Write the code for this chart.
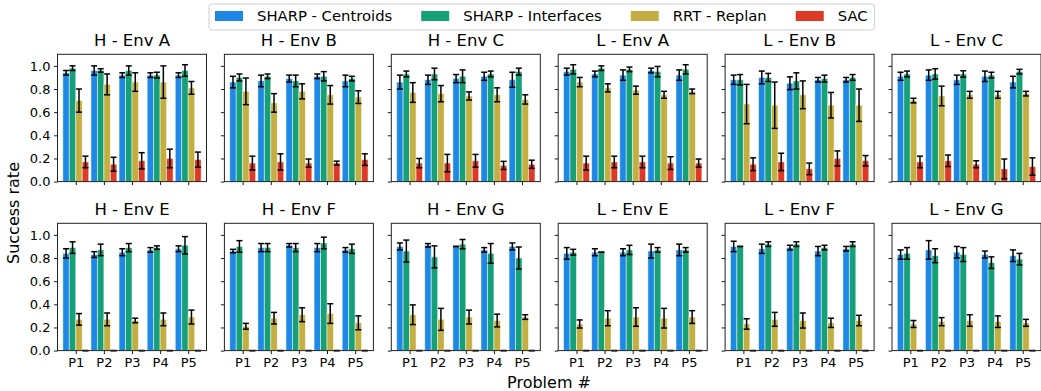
<!DOCTYPE html>
<html>
<head>
<meta charset="utf-8">
<script src="https://cdn.jsdelivr.net/npm/d3@7"></script>
<style>
  body { margin: 0; background: #ffffff; }
  text { font-family: "DejaVu Sans", sans-serif; fill: #000; }
</style>
</head>
<body>
<div id="chart"></div>
<script>
//panel titles, top row first
var panelTitles = ["H - Env A", "H - Env B", "H - Env C", "L - Env A", "L - Env B", "L - Env C",
                   "H - Env E", "H - Env F", "H - Env G", "L - Env E", "L - Env F", "L - Env G"];
var problems = ["P1", "P2", "P3", "P4", "P5"];
var seriesNames = ["SHARP - Centroids", "SHARP - Interfaces", "RRT - Replan", "SAC"];
var seriesColors = ["#1e88e5", "#16a077", "#c3ae42", "#de3826"];
var yTicks = [0, 0.2, 0.4, 0.6, 0.8, 1.0];

//mean success rate per panel (rows follow panelTitles)
var centroidsMean = [
  [0.94, 0.96, 0.92, 0.92, 0.92], [0.86, 0.87, 0.89, 0.91, 0.87], [0.86, 0.88, 0.89, 0.91, 0.88],
  [0.95, 0.93, 0.92, 0.96, 0.92], [0.88, 0.90, 0.85, 0.88, 0.88], [0.91, 0.92, 0.88, 0.91, 0.86],
  [0.84, 0.83, 0.85, 0.87, 0.88], [0.86, 0.89, 0.91, 0.89, 0.87], [0.90, 0.91, 0.90, 0.87, 0.90],
  [0.84, 0.85, 0.85, 0.86, 0.87], [0.90, 0.88, 0.89, 0.86, 0.88], [0.83, 0.87, 0.85, 0.83, 0.82]
];
var centroidsErr = [
  [0.02, 0.04, 0.02, 0.02, 0.02], [0.05, 0.05, 0.03, 0.02, 0.05], [0.06, 0.04, 0.035, 0.035, 0.065],
  [0.03, 0.025, 0.045, 0.02, 0.045], [0.04, 0.055, 0.055, 0.02, 0.02], [0.035, 0.045, 0.04, 0.045, 0.05],
  [0.04, 0.025, 0.03, 0.02, 0.025], [0.015, 0.035, 0.015, 0.035, 0.02], [0.03, 0.015, 0.0, 0.02, 0.03],
  [0.05, 0.03, 0.03, 0.06, 0.05], [0.045, 0.04, 0.02, 0.04, 0.02], [0.04, 0.08, 0.05, 0.03, 0.05]
];
var interfacesMean = [
  [0.98, 0.96, 0.96, 0.92, 0.96], [0.90, 0.91, 0.87, 0.91, 0.89], [0.93, 0.93, 0.91, 0.93, 0.95],
  [0.97, 0.98, 0.97, 0.95, 0.97], [0.88, 0.90, 0.87, 0.89, 0.90], [0.93, 0.93, 0.93, 0.92, 0.95],
  [0.89, 0.87, 0.89, 0.89, 0.91], [0.90, 0.89, 0.89, 0.93, 0.88], [0.86, 0.81, 0.92, 0.84, 0.80],
  [0.85, 0.85, 0.87, 0.87, 0.87], [0.90, 0.92, 0.92, 0.89, 0.92], [0.84, 0.82, 0.83, 0.76, 0.79]
];
var interfacesErr = [
  [0.02, 0.015, 0.04, 0.025, 0.05], [0.03, 0.02, 0.05, 0.04, 0.02], [0.025, 0.05, 0.055, 0.025, 0.03],
  [0.04, 0.02, 0.02, 0.045, 0.04], [0.045, 0.035, 0.07, 0.03, 0.025], [0.025, 0.045, 0.028, 0.025, 0.02],
  [0.05, 0.05, 0.035, 0.015, 0.075], [0.05, 0.035, 0.035, 0.05, 0.04], [0.095, 0.095, 0.04, 0.085, 0.095],
  [0.025, 0.0, 0.04, 0.02, 0.02], [0.0, 0.02, 0.02, 0.02, 0.02], [0.05, 0.06, 0.06, 0.05, 0.05]
];
var rrtMean = [
  [0.70, 0.84, 0.86, 0.86, 0.81], [0.78, 0.68, 0.78, 0.75, 0.73], [0.77, 0.76, 0.74, 0.75, 0.71],
  [0.86, 0.81, 0.79, 0.75, 0.78], [0.67, 0.66, 0.75, 0.66, 0.66], [0.70, 0.74, 0.75, 0.75, 0.76],
  [0.27, 0.27, 0.26, 0.27, 0.29], [0.21, 0.28, 0.31, 0.32, 0.24], [0.31, 0.27, 0.29, 0.26, 0.29],
  [0.23, 0.28, 0.29, 0.28, 0.29], [0.23, 0.27, 0.26, 0.24, 0.26], [0.23, 0.25, 0.26, 0.25, 0.24]
];
var rrtErr = [
  [0.10, 0.09, 0.08, 0.14, 0.055], [0.115, 0.08, 0.065, 0.08, 0.055], [0.085, 0.07, 0.035, 0.06, 0.04],
  [0.04, 0.035, 0.035, 0.03, 0.02], [0.17, 0.20, 0.12, 0.11, 0.14], [0.02, 0.085, 0.03, 0.03, 0.02],
  [0.05, 0.055, 0.02, 0.055, 0.06], [0.025, 0.05, 0.06, 0.085, 0.06], [0.085, 0.095, 0.06, 0.055, 0.02],
  [0.035, 0.065, 0.08, 0.085, 0.055], [0.045, 0.06, 0.065, 0.04, 0.045], [0.03, 0.035, 0.05, 0.05, 0.03]
];
var sacMean = [
  [0.17, 0.15, 0.18, 0.20, 0.19], [0.16, 0.17, 0.16, 0.16, 0.19], [0.16, 0.16, 0.18, 0.14, 0.15],
  [0.16, 0.17, 0.17, 0.16, 0.16], [0.15, 0.17, 0.11, 0.20, 0.18], [0.17, 0.18, 0.15, 0.11, 0.13],
  [0, 0, 0, 0, 0], [0, 0, 0, 0, 0], [0, 0, 0, 0, 0],
  [0, 0, 0, 0, 0], [0, 0, 0, 0, 0], [0, 0, 0, 0, 0]
];
var sacErr = [
  [0.05, 0.06, 0.07, 0.08, 0.065], [0.06, 0.07, 0.035, 0.017, 0.05], [0.04, 0.075, 0.055, 0.035, 0.035],
  [0.06, 0.05, 0.05, 0.055, 0.035], [0.055, 0.075, 0.05, 0.065, 0.045], [0.05, 0.05, 0.03, 0.085, 0.075],
  [0, 0, 0, 0, 0], [0, 0, 0, 0, 0], [0, 0, 0, 0, 0],
  [0, 0, 0, 0, 0], [0, 0, 0, 0, 0], [0, 0, 0, 0, 0]
];

var allMeans = [centroidsMean, interfacesMean, rrtMean, sacMean];
var allErrs = [centroidsErr, interfacesErr, rrtErr, sacErr];

//figure size
var width = 1041;
var height = 391;

//panel geometry
var panelLeft = 57.5;
var panelStep = 166.9;
var panelWidth = 149;
var rowTops = [54.3, 223.3];
var panelHeight = 127.3;
var barWidth = 0.23;

var svg = d3
  .select("#chart")
  .append("svg")
  .attr("width", width)
  .attr("height", height);

//shared scales
var xScale = d3
  .scaleLinear()
  .domain([-0.65, 4.65])
  .range([0, panelWidth]);

var yScale = d3
  .scaleLinear()
  .domain([0, 1.1])
  .range([panelHeight, 0]);

panelTitles.forEach(function(title, p) {
  var row = Math.floor(p / 6);
  var col = p % 6;

  var g = svg
    .append("g")
    .attr("transform", "translate(" + (panelLeft + col * panelStep) + "," + rowTops[row] + ")");

  //flatten the panel's values into one list of bars
  var bars = [];
  seriesNames.forEach(function(name, s) {
    problems.forEach(function(prob, i) {
      bars.push({
        series: s,
        problem: i,
        value: allMeans[s][p][i],
        err: allErrs[s][p][i]
      });
    });
  });

  var barX = function(d) {
    return d.problem + (d.series - 1.5) * barWidth;
  };

  g.selectAll(".bar")
    .data(bars)
    .enter()
    .append("rect")
    .attr("class", "bar")
    .attr("x", function(d) {
      return xScale(barX(d) - barWidth / 2);
    })
    .attr("width", xScale(barWidth) - xScale(0))
    .attr("y", function(d) {
      return yScale(d.value);
    })
    .attr("height", function(d) {
      return yScale(0) - yScale(d.value);
    })
    .attr("fill", function(d) {
      return seriesColors[d.series];
    })
    .attr("stroke", "#ffffff")
    .attr("stroke-opacity", 0.55)
    .attr("stroke-width", 0.9);

  //error bars
  var capHalf = 3;
  var errs = g
    .selectAll(".err")
    .data(bars)
    .enter()
    .append("g")
    .attr("class", "err")
    .attr("stroke", "#000")
    .attr("stroke-width", 1.5);

  errs
    .append("line")
    .attr("x1", function(d) { return xScale(barX(d)); })
    .attr("x2", function(d) { return xScale(barX(d)); })
    .attr("y1", function(d) { return yScale(d.value - d.err); })
    .attr("y2", function(d) { return yScale(d.value + d.err); });

  [-1, 1].forEach(function(sign) {
    errs
      .append("line")
      .attr("x1", function(d) { return xScale(barX(d)) - capHalf; })
      .attr("x2", function(d) { return xScale(barX(d)) + capHalf; })
      .attr("y1", function(d) { return yScale(d.value + sign * d.err); })
      .attr("y2", function(d) { return yScale(d.value + sign * d.err); });
  });

  //axes
  var xAxis = d3
    .axisBottom(xScale)
    .tickValues(d3.range(problems.length))
    .tickSize(3.5)
    .tickPadding(4)
    .tickFormat(function(d) {
      return row == 1 ? problems[d] : "";
    });

  var yAxis = d3
    .axisLeft(yScale)
    .tickValues(yTicks)
    .tickSize(3.5)
    .tickPadding(3.5)
    .tickFormat(function(d) {
      return col == 0 ? d3.format(".1f")(d) : "";
    });

  g.append("g")
    .attr("transform", "translate(0," + panelHeight + ")")
    .call(xAxis);

  g.append("g").call(yAxis);

  //remove domain lines, the frame is drawn below
  g.selectAll(".domain").remove();
  g.selectAll(".tick line").attr("stroke", "#000").attr("stroke-width", 0.9);
  g.selectAll(".tick text")
    .style("font-family", "DejaVu Sans, sans-serif")
    .style("font-size", "13px")
    .attr("fill", "#000");

  g.append("rect")
    .attr("width", panelWidth)
    .attr("height", panelHeight)
    .attr("fill", "none")
    .attr("stroke", "#222")
    .attr("stroke-width", 1);

  //panel title
  g.append("text")
    .attr("x", panelWidth / 2)
    .attr("y", -8)
    .attr("text-anchor", "middle")
    .style("font-size", "16.5px")
    .text(title);
});

//shared axis labels
svg
  .append("text")
  .attr("transform", "translate(19,213) rotate(-90)")
  .attr("text-anchor", "middle")
  .style("font-size", "16px")
  .text("Success rate");

svg
  .append("text")
  .attr("x", 549)
  .attr("y", 388)
  .attr("text-anchor", "middle")
  .style("font-size", "16px")
  .text("Problem #");

//legend
var legend = svg.append("g").attr("class", "legend");
var legendBox = legend
  .append("rect")
  .attr("y", 4)
  .attr("height", 26)
  .attr("rx", 3)
  .attr("fill", "#fff")
  .attr("fill-opacity", 0.85)
  .attr("stroke", "#d0d0d0");

var cursor = 215;
seriesNames.forEach(function(name, s) {
  legend
    .append("rect")
    .attr("x", cursor)
    .attr("y", 11)
    .attr("width", 28)
    .attr("height", 10)
    .attr("fill", seriesColors[s]);
  var t = legend
    .append("text")
    .attr("x", cursor + 42)
    .attr("y", 21)
    .style("font-size", "14.8px")
    .text(name);
  cursor = cursor + 42 + t.node().getComputedTextLength() + 29;
});
legendBox.attr("x", 209).attr("width", cursor - 29 + 7 - 209);
</script>
</body>
</html>
